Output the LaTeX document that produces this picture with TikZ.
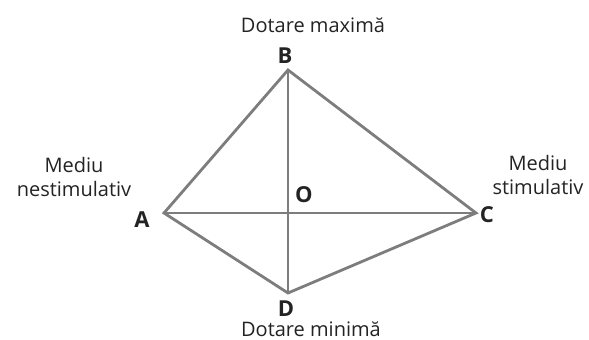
\documentclass[tikz,border=0pt]{standalone}
\usepackage{fontspec}
\setmainfont{Open Sans}
\usepackage{tikz}
\definecolor{edgegray}{RGB}{125,125,125}
\definecolor{txtgray}{RGB}{35,35,35}
\tikzset{
    side/.style={draw=edgegray, line width=1.4pt, line join=miter},
    vlabel/.style={font=\bfseries\fontsize{11}{13}\selectfont, text=txtgray, inner sep=1pt},
    caption/.style={font=\fontsize{10}{12}\selectfont, text=txtgray, align=center, inner sep=1pt}
}

\begin{document}
\begin{tikzpicture}[x=0.5pt,y=-0.5pt]
            \useasboundingbox (0,0) rectangle (589,339);

            \coordinate (A) at (164,213);
            \coordinate (B) at (288,70);
            \coordinate (C) at (476,213);
            \coordinate (D) at (288,293);
            \coordinate (O) at (288,213);

            \draw[side] (A)--(B)--(C)--(D)--cycle;
            \draw[side] (A)--(C);
            \draw[side] (B)--(D);

            \node[vlabel] (lA) at (142,220) {A};
            \node[vlabel] (lB) at (285,56) {B};
            \node[vlabel] (lC) at (487,215) {C};
            \node[vlabel] (lD) at (286,309) {D};
            \node[vlabel] (lO) at (304,195) {O};

            \node[caption] (top) at (313,25) {Dotare maximă};
            \node[caption] (bottom) at (311,329) {Dotare minimă};
            \node[caption] (left) at (74,177) {Mediu\\nestimulativ};
            \node[caption] (right) at (538,175) {Mediu\\stimulativ};
        \end{tikzpicture}
\end{document}
